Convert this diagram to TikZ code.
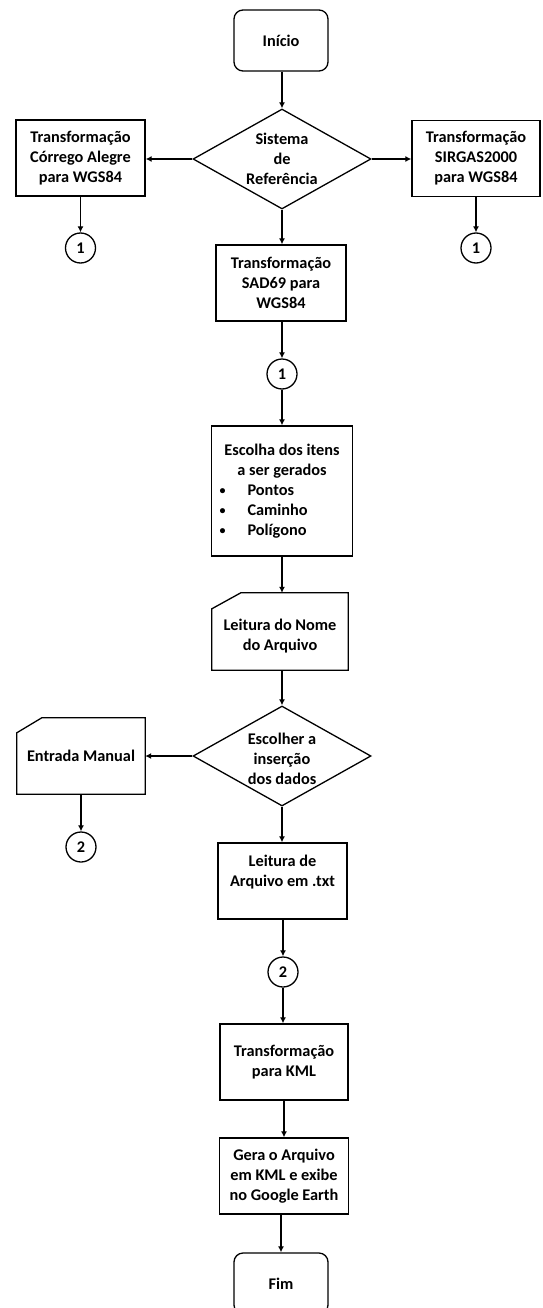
\documentclass[tikz,border=0pt]{standalone}
\usepackage{fontspec}
\setmainfont{Carlito}
\usetikzlibrary{shapes.geometric,arrows.meta}
\newcommand{\blt}{\makebox[36pt][l]{\makebox[22pt][c]{\raisebox{1pt}{\fontsize{12}{12}\selectfont •}}}}
\begin{document}
\begin{tikzpicture}[x=1pt,y=-1pt,
  font=\bfseries\fontsize{16.3}{20}\selectfont,
  box/.style={draw, line width=1.3pt, minimum width=130pt, minimum height=76pt, inner sep=0pt, align=center},
  term/.style={box, rounded corners=9pt, minimum width=94pt, minimum height=61pt},
  dec/.style={draw, diamond, line width=1.3pt, minimum width=178pt, minimum height=100pt, inner sep=0pt},
  conn/.style={draw, circle, line width=1.3pt, minimum size=30pt, inner sep=0pt},
  ghost/.style={inner sep=0pt, align=center},
  outl/.style={line width=1.3pt},
  arr/.style={line width=1.8pt, -{Latex[length=6pt,width=6pt]}}
]
\useasboundingbox (0,0) rectangle (542,1308);
\clip (0,0) rectangle (542,1308);

% nodes
\node[term] (ini) at (281,40.5) {Início};
\node[dec] (d1) at (282,159) {};
\node[ghost] (d1t) at (282,159) {Sistema\\de\\Referência};
\node[box, minimum width=129pt] (lft) at (80.5,158) {Transformação\\Córrego Alegre\\para WGS84};
\node[box, minimum width=128pt] (rgt) at (476,158.5) {Transformação\\SIRGAS2000\\para WGS84};
\node[conn] (cl) at (80.5,248) {1};
\node[conn] (cr) at (476,248) {1};
\node[box] (sad) at (281,283) {Transformação\\SAD69 para\\WGS84};
\node[conn] (c1) at (282,374) {1};
\node[box, minimum width=141pt, minimum height=130pt] (esc) at (282,491)
  {Escolha dos itens\\
   a ser gerados\\
   \makebox[141pt][l]{\blt Pontos}\\
   \makebox[141pt][l]{\blt Caminho}\\
   \makebox[141pt][l]{\blt Polígono}};
\node[ghost, minimum width=136pt, minimum height=77pt] (nome) at (280,631.5) {\mbox{}\\Leitura do Nome\\do Arquivo};
\draw[outl] ([yshift=-16pt]nome.north west) -- ([xshift=29pt]nome.north west) -- (nome.north east)
  -- (nome.south east) -- (nome.south west) -- cycle;
\node[dec] (d2) at (282,756) {};
\node[ghost] (d2t) at (282,759) {Escolher a\\inserção\\dos dados};
\node[ghost, minimum width=128pt, minimum height=76pt] (man) at (81,756) {Entrada Manual};
\draw[outl] ([yshift=-15pt]man.north west) -- ([xshift=25pt]man.north west) -- (man.north east)
  -- (man.south east) -- (man.south west) -- cycle;
\node[conn] (c2l) at (81,847) {2};
\node[box, minimum width=129pt] (txt) at (282.5,881) {Leitura de\\Arquivo em .txt\\\mbox{}};
\node[conn] (c2) at (283,972) {2};
\node[box, minimum width=128pt] (kml) at (284,1062) {Transformação\\para KML};
\node[box, minimum width=129pt] (gera) at (284,1176) {Gera o Arquivo\\em KML e exibe\\no Google Earth};
\node[term] (fim) at (281,1283.5) {Fim};

% connectors
\draw[arr] (d1.north |- ini.south) -- (d1.north);
\draw[arr] (d1.west) -- (d1.west -| lft.east);
\draw[arr] (d1.east) -- (d1.east -| rgt.west);
\draw[arr] (d1.south) -- (d1.south |- sad.north);
\draw[arr] (lft.south) -- (cl.north);
\draw[arr] (rgt.south) -- (cr.north);
\draw[arr] (c1.north |- sad.south) -- (c1.north);
\draw[arr] (c1.south) -- (c1.south |- esc.north);
\draw[arr] (esc.south) -- (esc.south |- nome.north);
\draw[arr] (d2.north |- nome.south) -- (d2.north);
\draw[arr] (d2.west) -- (d2.west -| man.east);
\draw[arr] (d2.south) -- (d2.south |- txt.north);
\draw[arr] (c2l.north |- man.south) -- (c2l.north);
\draw[arr] (c2.north |- txt.south) -- (c2.north);
\draw[arr] (c2.south) -- (c2.south |- kml.north);
\draw[arr] (kml.south) -- (kml.south |- gera.north);
\draw[arr] (fim.north |- gera.south) -- (fim.north);
\end{tikzpicture}
\end{document}
